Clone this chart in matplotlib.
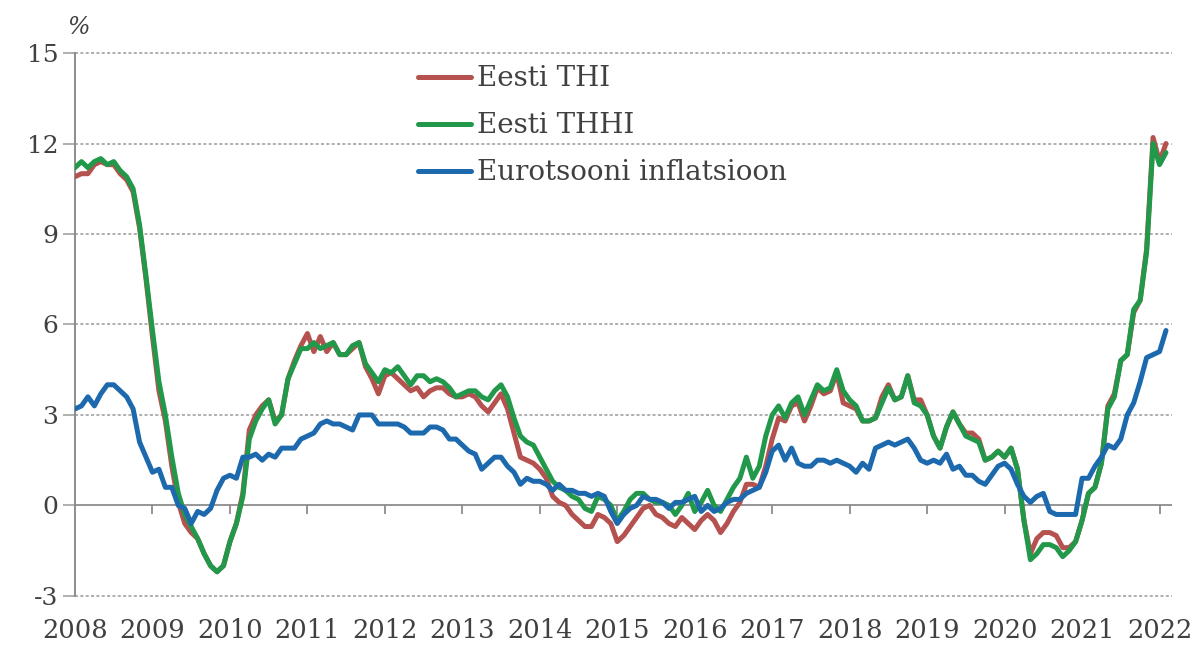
import numpy as np
import matplotlib
matplotlib.use("Agg")
import matplotlib.pyplot as plt

# DATA (monthly, Jan 2008 - Feb 2022, annual change %)
years = [str(y) for y in range(2008, 2023)]

eesti_thi = [
    10.9, 11.0, 11.0, 11.3, 11.4, 11.3, 11.3, 11.0, 10.8, 10.4, 9.2, 7.5,
    5.6, 3.8, 2.8, 1.3, 0.1, -0.6, -0.9, -1.1, -1.6, -2.0, -2.2, -2.0,
    -1.2, -0.6, 0.4, 2.5, 3.0, 3.3, 3.5, 2.8, 3.0, 4.2, 4.8, 5.3,
    5.7, 5.1, 5.6, 5.1, 5.4, 5.0, 5.0, 5.2, 5.4, 4.6, 4.2, 3.7,
    4.3, 4.4, 4.2, 4.0, 3.8, 3.9, 3.6, 3.8, 3.9, 3.9, 3.7, 3.6,
    3.6, 3.7, 3.6, 3.3, 3.1, 3.4, 3.7, 3.2, 2.4, 1.6, 1.5, 1.4,
    1.2, 0.9, 0.3, 0.1, 0.0, -0.3, -0.5, -0.7, -0.7, -0.3, -0.4, -0.6,
    -1.2, -1.0, -0.7, -0.4, -0.1, 0.0, -0.3, -0.4, -0.6, -0.7, -0.4, -0.6,
    -0.8, -0.5, -0.3, -0.5, -0.9, -0.6, -0.2, 0.1, 0.7, 0.7, 0.6, 1.3,
    2.2, 2.9, 2.8, 3.3, 3.4, 2.8, 3.3, 3.9, 3.7, 3.8, 4.4, 3.4,
    3.3, 3.2, 2.8, 2.8, 2.9, 3.6, 4.0, 3.5, 3.6, 4.3, 3.5, 3.5,
    3.0, 2.3, 1.9, 2.6, 3.1, 2.7, 2.4, 2.4, 2.2, 1.5, 1.6, 1.8,
    1.6, 1.9, 1.2, -0.5, -1.6, -1.1, -0.9, -0.9, -1.0, -1.4, -1.4, -1.2,
    -0.5, 0.4, 0.6, 1.4, 3.3, 3.7, 4.8, 5.0, 6.4, 6.8, 8.5, 12.2,
    11.4, 12.0,
]

eesti_thhi = [
    11.2, 11.4, 11.2, 11.4, 11.5, 11.3, 11.4, 11.1, 10.9, 10.5, 9.3, 7.6,
    5.8, 4.1, 3.0, 1.6, 0.4, -0.3, -0.7, -1.1, -1.6, -2.0, -2.2, -2.0,
    -1.2, -0.6, 0.3, 2.2, 2.8, 3.2, 3.5, 2.7, 3.0, 4.2, 4.7, 5.2,
    5.2, 5.4, 5.2, 5.3, 5.4, 5.0, 5.0, 5.3, 5.4, 4.7, 4.4, 4.1,
    4.5, 4.4, 4.6, 4.3, 4.0, 4.3, 4.3, 4.1, 4.2, 4.1, 3.9, 3.6,
    3.7, 3.8, 3.8, 3.6, 3.5, 3.8, 4.0, 3.6, 2.9, 2.3, 2.1, 2.0,
    1.6, 1.2, 0.8, 0.6, 0.5, 0.3, 0.2, -0.1, -0.2, 0.3, 0.2, 0.0,
    -0.5, -0.2, 0.2, 0.4, 0.4, 0.2, 0.1, 0.1, 0.0, -0.3, 0.0, 0.4,
    -0.2, 0.1, 0.5, 0.0, -0.2, 0.2, 0.6, 0.9, 1.6, 0.9, 1.3, 2.3,
    3.0, 3.3, 2.9, 3.4, 3.6, 3.0, 3.5, 4.0, 3.8, 3.9, 4.5, 3.8,
    3.5, 3.3, 2.8, 2.8, 2.9, 3.4, 3.9, 3.5, 3.6, 4.3, 3.4, 3.3,
    3.0, 2.3, 1.9, 2.6, 3.1, 2.7, 2.3, 2.2, 2.1, 1.5, 1.6, 1.8,
    1.6, 1.9, 1.2, -0.5, -1.8, -1.6, -1.3, -1.3, -1.4, -1.7, -1.5, -1.2,
    -0.5, 0.4, 0.6, 1.4, 3.2, 3.6, 4.8, 5.0, 6.5, 6.8, 8.4, 12.0,
    11.3, 11.7,
]

eurotsoon = [
    3.2, 3.3, 3.6, 3.3, 3.7, 4.0, 4.0, 3.8, 3.6, 3.2, 2.1, 1.6,
    1.1, 1.2, 0.6, 0.6, 0.0, -0.1, -0.6, -0.2, -0.3, -0.1, 0.5, 0.9,
    1.0, 0.9, 1.6, 1.6, 1.7, 1.5, 1.7, 1.6, 1.9, 1.9, 1.9, 2.2,
    2.3, 2.4, 2.7, 2.8, 2.7, 2.7, 2.6, 2.5, 3.0, 3.0, 3.0, 2.7,
    2.7, 2.7, 2.7, 2.6, 2.4, 2.4, 2.4, 2.6, 2.6, 2.5, 2.2, 2.2,
    2.0, 1.8, 1.7, 1.2, 1.4, 1.6, 1.6, 1.3, 1.1, 0.7, 0.9, 0.8,
    0.8, 0.7, 0.5, 0.7, 0.5, 0.5, 0.4, 0.4, 0.3, 0.4, 0.3, -0.2,
    -0.6, -0.3, -0.1, 0.0, 0.3, 0.2, 0.2, 0.1, -0.1, 0.1, 0.1, 0.2,
    0.3, -0.2, 0.0, -0.2, -0.1, 0.1, 0.2, 0.2, 0.4, 0.5, 0.6, 1.1,
    1.8, 2.0, 1.5, 1.9, 1.4, 1.3, 1.3, 1.5, 1.5, 1.4, 1.5, 1.4,
    1.3, 1.1, 1.4, 1.2, 1.9, 2.0, 2.1, 2.0, 2.1, 2.2, 1.9, 1.5,
    1.4, 1.5, 1.4, 1.7, 1.2, 1.3, 1.0, 1.0, 0.8, 0.7, 1.0, 1.3,
    1.4, 1.2, 0.7, 0.3, 0.1, 0.3, 0.4, -0.2, -0.3, -0.3, -0.3, -0.3,
    0.9, 0.9, 1.3, 1.6, 2.0, 1.9, 2.2, 3.0, 3.4, 4.1, 4.9, 5.0,
    5.1, 5.8,
]

months = np.arange(len(eurotsoon))
year_ticks = np.arange(len(years)) * 12

# PLOTTING
txt = "#404040"
grid_col = "#9a9a9a"
plt.rcParams["font.family"] = ["DejaVu Serif"]

fig = plt.figure(figsize=(12.02, 6.47), dpi=100)
ax = fig.add_axes([0.0624, 0.079, 0.913, 0.839])

ax.plot(months, eesti_thi, color="#b5524f", lw=3.6, label="Eesti THI",
        solid_capstyle="round", zorder=3)
ax.plot(months, eesti_thhi, color="#22994a", lw=3.6, label="Eesti THHI",
        solid_capstyle="round", zorder=4)
ax.plot(months, eurotsoon, color="#1d69ae", lw=3.6, label="Eurotsooni inflatsioon",
        solid_capstyle="round", zorder=5)

ax.set_xlim(0, 170)
ax.set_ylim(-3, 15)
ax.set_yticks(range(-3, 16, 3))
ax.set_yticklabels([str(v) for v in range(-3, 16, 3)], fontsize=18, color=txt)

# dotted gridlines, solid zero line
for v in range(-3, 16, 3):
    if v != 0:
        ax.axhline(v, color=grid_col, lw=1.1, ls=(0, (2, 1.5)), zorder=1, clip_on=False)
ax.axhline(0, color="#8c8c8c", lw=1.3, zorder=2)

# year tick marks on the zero line, labels at bottom
ax.vlines(year_ticks[1:], -0.28, 0, color="#8c8c8c", lw=1.3, zorder=2)
ax.set_xticks(year_ticks)
ax.set_xticklabels(years, fontsize=18.5, color=txt)
ax.tick_params(axis="x", length=0, pad=16)
ax.tick_params(axis="y", length=9, width=1.1, color=grid_col, pad=3)

for s in ["top", "right", "bottom"]:
    ax.spines[s].set_visible(False)
ax.spines["left"].set_color("#8c8c8c")
ax.spines["left"].set_linewidth(1.4)

fig.text(0.065, 0.957, "%", fontsize=17, color=txt, ha="center", va="center",
         style="italic")

leg = ax.legend(loc="upper left", bbox_to_anchor=(0.348, 0.899),
                bbox_transform=fig.transFigure, frameon=False, fontsize=20,
                handlelength=1.9, handletextpad=0.2, labelspacing=0.72,
                borderpad=0, borderaxespad=0)
for t in leg.get_texts():
    t.set_color(txt)

plt.savefig("out.png", dpi=100)
